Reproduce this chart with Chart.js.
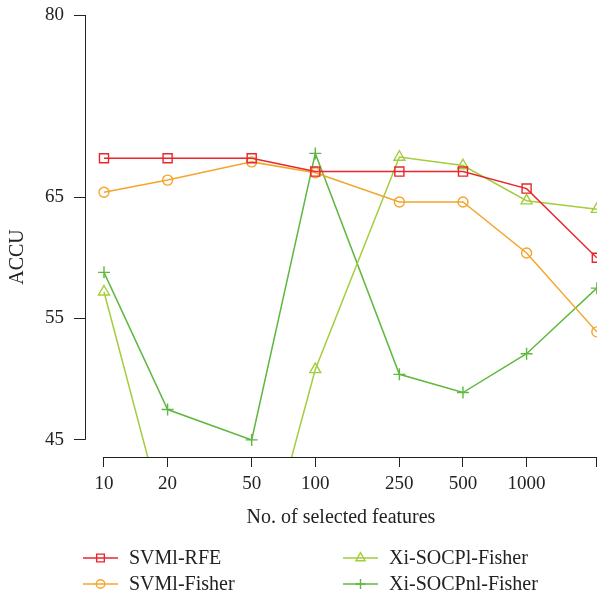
<!DOCTYPE html>
<html>
<head>
<meta charset="utf-8">
<script src="https://cdn.jsdelivr.net/npm/chart.js@4"></script>
<style>
html, body { margin: 0; padding: 0; background: #fff; }
</style>
</head>
<body>
<canvas id="accuChart" width="597" height="599"></canvas>
<script>
// x positions (log spaced) and their tick labels
const features = [10, 20, 50, 100, 250, 500, 1000, 2150];
const featureLabels = ['10', '20', '50', '100', '250', '500', '1000', ''];
const accuTicks = [45, 55, 65, 80];

// ACCU per method
const svmlRfe = [68.2, 68.2, 68.2, 67.1, 67.1, 67.1, 65.7, 60.0];
const svmlFisher = [65.4, 66.4, 67.9, 67.0, 64.6, 64.6, 60.4, 53.9];
const xiSocplFisher = [57.2, 37.4, 31.4, 50.8, 68.3, 67.6, 64.7, 64.0];
const xiSocpnlFisher = [58.8, 47.5, 45.0, 68.6, 50.4, 48.9, 52.1, 57.5];

const FONT = '"Liberation Serif", "DejaVu Serif", serif';
const INK = '#222';

function series(vals) {
    return vals.map((v, i) => ({ x: features[i], y: v }));
}

function makeSet(label, vals, color, style, r) {
    return {
        label: label,
        data: series(vals),
        borderColor: color,
        borderWidth: 1.5,
        pointStyle: style,
        pointRadius: r,
        pointBorderColor: color,
        pointBackgroundColor: 'rgba(0,0,0,0)',
        pointBorderWidth: 1.4,
        tension: 0
    };
}

// R style axes (line only between first and last tick), y title and 2-column legend
const rStyle = {
    id: 'rStyle',
    afterDraw(chart) {
        const { ctx, chartArea, scales } = chart;
        const x = scales.x, y = scales.y;
        ctx.save();
        ctx.strokeStyle = INK;
        ctx.lineWidth = 1;
        ctx.beginPath();
        const lx = Math.round(chartArea.left) + 0.5;
        ctx.moveTo(lx, y.getPixelForValue(accuTicks[accuTicks.length - 1]));
        ctx.lineTo(lx, y.getPixelForValue(accuTicks[0]));
        const by = Math.round(chartArea.bottom) + 0.5;
        ctx.moveTo(x.getPixelForValue(features[0]), by);
        ctx.lineTo(chartArea.right, by);
        ctx.stroke();

        ctx.fillStyle = INK;
        ctx.font = '20px ' + FONT;
        ctx.textAlign = 'center';
        ctx.textBaseline = 'middle';
        ctx.translate(18, 257);
        ctx.rotate(-Math.PI / 2);
        ctx.fillText('ACCU', 0, 0);
        ctx.restore();

        // legend
        const cols = [83, 343];
        const rows = [558, 584];
        ctx.save();
        ctx.font = '20px ' + FONT;
        ctx.textBaseline = 'middle';
        ctx.textAlign = 'left';
        chart.data.datasets.forEach((ds, i) => {
            const x0 = cols[Math.floor(i / 2)];
            const y0 = rows[i % 2];
            ctx.strokeStyle = ds.borderColor;
            ctx.lineWidth = 1.5;
            ctx.beginPath();
            ctx.moveTo(x0, y0);
            ctx.lineTo(x0 + 35, y0);
            ctx.stroke();
            if (Chart.helpers && Chart.helpers.drawPoint) {
                ctx.fillStyle = 'rgba(0,0,0,0)';
                ctx.lineWidth = 1.4;
                Chart.helpers.drawPoint(ctx, {
                    pointStyle: ds.pointStyle,
                    radius: ds.pointRadius * 0.85,
                    rotation: 0,
                    borderWidth: 1.4
                }, x0 + 17.5, y0);
            }
            ctx.fillStyle = INK;
            ctx.fillText(ds.label, x0 + 46, y0 + 1);
        });
        ctx.restore();
    }
};

new Chart(document.getElementById('accuChart'), {
    type: 'line',
    data: {
        datasets: [
            makeSet('SVMl-RFE', svmlRfe, '#e8262c', 'rect', 6.4),
            makeSet('SVMl-Fisher', svmlFisher, '#f4a52c', 'circle', 5),
            makeSet('Xi-SOCPl-Fisher', xiSocplFisher, '#a3cd3c', 'triangle', 6.3),
            makeSet('Xi-SOCPnl-Fisher', xiSocpnlFisher, '#5fb83f', 'cross', 6)
        ]
    },
    options: {
        responsive: false,
        animation: false,
        devicePixelRatio: 1,
        layout: {
            autoPadding: false,
            padding: { top: 15, right: 0, bottom: 62, left: 0 }
        },
        plugins: {
            legend: { display: false },
            tooltip: { enabled: false }
        },
        scales: {
            x: {
                type: 'logarithmic',
                min: 8.13,
                max: 2154,
                afterBuildTicks: (scale) => {
                    scale.ticks = features.map(v => ({ value: v }));
                },
                afterFit: (scale) => {
                    scale.height = 80;
                    scale.paddingLeft = 0;
                    scale.paddingRight = 0;
                },
                grid: {
                    drawOnChartArea: false,
                    drawTicks: true,
                    tickLength: 10,
                    color: INK
                },
                border: { display: false },
                ticks: {
                    autoSkip: false,
                    maxRotation: 0,
                    padding: 6,
                    color: INK,
                    font: { family: FONT, size: 19 },
                    callback: (value, index) => featureLabels[index]
                },
                title: {
                    display: true,
                    text: 'No. of selected features',
                    color: INK,
                    font: { family: FONT, size: 20 },
                    padding: { top: 0, bottom: 7 }
                }
            },
            y: {
                min: 43.59,
                max: 80,
                afterBuildTicks: (scale) => {
                    scale.ticks = accuTicks.map(v => ({ value: v }));
                },
                afterFit: (scale) => {
                    scale.width = 85;
                    scale.paddingTop = 0;
                    scale.paddingBottom = 0;
                },
                grid: {
                    drawOnChartArea: false,
                    drawTicks: true,
                    tickLength: 11,
                    color: INK
                },
                border: { display: false },
                ticks: {
                    padding: 10,
                    color: INK,
                    font: { family: FONT, size: 19 }
                }
            }
        }
    },
    plugins: [rStyle]
});
</script>
</body>
</html>
